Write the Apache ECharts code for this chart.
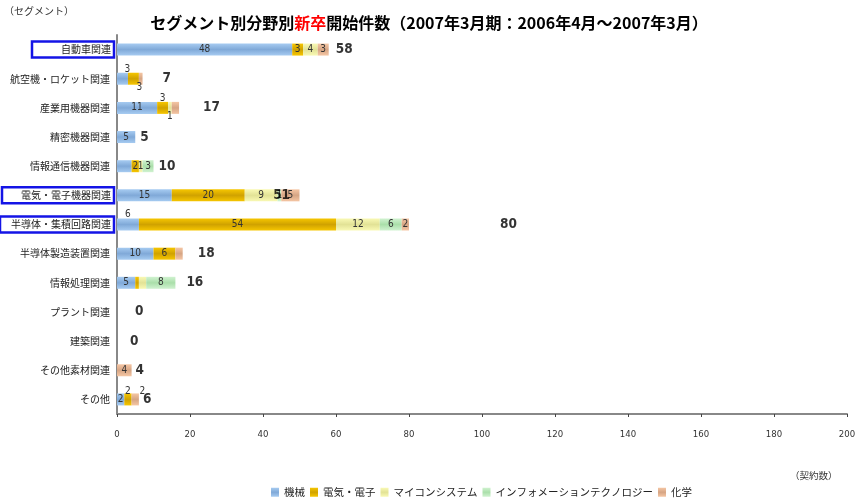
<!DOCTYPE html>
<html><head><meta charset="utf-8">
<script src="https://cdn.jsdelivr.net/npm/echarts@6/dist/echarts.min.js"></script>
<style>html,body{margin:0;padding:0;background:#fff}#c{width:858px;height:504px}</style>
</head><body><div id="c"></div>
<script>
const categories = ['自動車関連','航空機・ロケット関連','産業用機器関連','精密機器関連','情報通信機器関連','電気・電子機器関連','半導体・集積回路関連','半導体製造装置関連','情報処理関連','プラント関連','建築関連','その他素材関連','その他'];
const seriesNames = ['機械','電気・電子','マイコンシステム','インフォメーションテクノロジー','化学'];
const kikai  = [48,3,11,5,4,15,6,10,5,0,0,0,2];
const denki  = [3,3,3,0,2,20,54,6,1,0,0,0,2];
const maicon = [4,0,1,0,1,9,12,0,2,0,0,0,0];
const info   = [0,0,0,0,3,1,6,0,8,0,0,0,0];
const kagaku = [3,1,2,0,0,5,2,2,0,0,0,4,2];
const totals = [58,7,17,5,10,51,80,18,16,0,0,4,6];
const xMin = 0, xMax = 200, xStep = 20;

const seriesValues = [kikai, denki, maicon, info, kagaku];
const highlighted = {'自動車関連':'b1','電気・電子機器関連':'b2','半導体・集積回路関連':'b3'};

// styling
const grad = (a,b) => new echarts.graphic.LinearGradient(0,0,0,1,[{offset:0,color:a},{offset:0.5,color:b},{offset:1,color:a}]);
const colors = [grad('#a6cbf1','#80a9d8'), grad('#f6c600','#d0a200'), grad('#f9f9b4','#e2e296'), grad('#d0f2d0','#aadfaa'), grad('#f5c6a4','#d6a584')];
const labelOverrides = {
  '1-0':{position:'top',distance:0,offset:[5,2]}, '1-1':{position:'bottom',distance:0,offset:[6,-2]}, '1-4':{show:false},
  '2-1':{position:'top',distance:0,offset:[0,2]}, '2-2':{position:'bottom',distance:0,offset:[0,-2]}, '2-4':{show:false},
  '4-0':{show:false},
  '6-0':{position:'top',distance:0,offset:[0,1]},
  '7-4':{show:false},
  '8-1':{show:false}, '8-2':{show:false},
  '12-1':{position:'top',distance:0,offset:[0,3]}, '12-4':{position:'top',distance:0,offset:[7,3]}
};
const totalOffsets = [7,20,24,5,5,-30,91,15,11,18,13,4,4];
const numFont = "'Liberation Sans Narrow','DejaVu Sans Condensed','Liberation Sans',sans-serif";
const jpFont = "'Noto Sans CJK JP',sans-serif";
const boxBase = {fontSize:10, color:'#222', fontFamily:jpFont, lineHeight:13, align:'right',
                 borderColor:'#1414e6', borderWidth:2.5, padding:[3,3,3,3]};

const chart = echarts.init(document.getElementById('c'));
const barSeries = seriesNames.map((name, s) => ({
  name, type:'bar', stack:'all', barWidth:12,
  itemStyle:{color:colors[s]},
  label:{show:true, position:'inside', fontSize:10, color:'#333', fontFamily:numFont,
         formatter: p => p.value === 0 ? '' : String(p.value)},
  data: seriesValues[s].map((v, i) => {
    const o = labelOverrides[i + '-' + s];
    return o ? {value:v, label:o} : v;
  })
}));
const totalSeries = {
  name:'合計', type:'scatter', symbolSize:0, z:10, silent:true,
  label:{show:true, position:'right', distance:0, fontSize:13.5, fontWeight:'bold', color:'#000', fontFamily:numFont,
         formatter: p => String(p.value[0])},
  data: totals.map((t, i) => ({value:[t, categories[i]], label:{offset:[totalOffsets[i],0]}}))
};

chart.setOption({
  animation:false,
  title:{
    text:'{a|セグメント別分野別}{r|新卒}{a|開始件数（2007年3月期：2006年4月～2007年3月）}',
    left:'center', top:10,
    textStyle:{rich:{
      a:{fontSize:16, fontWeight:'bold', color:'#000', fontFamily:jpFont},
      r:{fontSize:16, fontWeight:'bold', color:'#ff0000', fontFamily:jpFont}
    }}
  },
  graphic:[
    {type:'text', left:4, top:6, style:{text:'（セグメント）', fontSize:10, fill:'#333', fontFamily:jpFont}},
    {type:'text', left:790, top:471, style:{text:'（契約数）', fontSize:9.5, fill:'#333', fontFamily:jpFont}}
  ],
  legend:{
    data:seriesNames, left:266, top:482, itemWidth:8, itemHeight:9, itemGap:5,
    icon:'rect',
    textStyle:{fontSize:10.5, color:'#222', fontFamily:jpFont}
  },
  grid:{left:117, right:11, top:35, bottom:90, outerBoundsMode:'none', containLabel:false},
  xAxis:{
    type:'value', min:xMin, max:xMax, interval:xStep,
    axisLine:{show:true, lineStyle:{color:'#888', width:2}},
    axisTick:{show:true, length:3, lineStyle:{color:'#444'}},
    splitLine:{show:false},
    axisLabel:{fontSize:9.5, color:'#333', margin:16, fontFamily:numFont}
  },
  yAxis:{
    type:'category', data:categories, inverse:true,
    axisLine:{show:true, lineStyle:{color:'#888', width:2}},
    axisTick:{show:false},
    axisLabel:{
      margin:3, fontSize:10, color:'#222', fontFamily:jpFont,
      formatter: v => highlighted[v] ? '{' + highlighted[v] + '|' + v + '}' : '{n|' + v + '}',
      rich:{
        n:{fontSize:10, color:'#222', fontFamily:jpFont, padding:[0,4,0,0]},
        b1:Object.assign({width:76}, boxBase),
        b2:Object.assign({width:106}, boxBase),
        b3:Object.assign({width:108}, boxBase)
      }
    }
  },
  series:[...barSeries, totalSeries]
});
</script></body></html>
